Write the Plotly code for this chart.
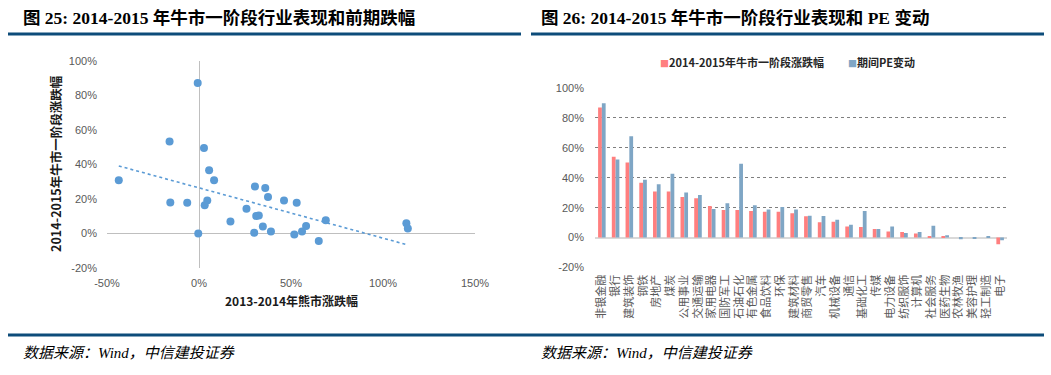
import numpy as np
import plotly.graph_objects as go

W, H = 1051, 375

# ---------- Left chart data (scatter) ----------
bear_2013_2014 = [-0.007, -0.16, 0.027, 0.055, 0.082, -0.436, 0.304, 0.36, 0.375, 0.045,
                  0.462, -0.156, -0.064, 0.531, 0.031, 0.258, 0.311, 0.325, 0.689, 0.171,
                  1.127, 0.582, 0.347, 1.135, 0.391, 0.56, 0.30, -0.004, 0.518, 0.651]
bull_2014_2015 = [0.873, 0.533, 0.496, 0.367, 0.309, 0.309, 0.272, 0.264, 0.212, 0.191,
                  0.191, 0.18, 0.178, 0.178, 0.164, 0.143, 0.102, 0.105, 0.077, 0.07,
                  0.06, 0.044, 0.041, 0.029, 0.012, 0.012, 0.004, 0.0, -0.006, -0.044]

left_x_ticks = [-0.5, 0, 0.5, 1.0, 1.5]
left_x_ticktext = ["-50%", "0%", "50%", "100%", "150%"]
left_y_ticks = [-0.2, 0, 0.2, 0.4, 0.6, 0.8, 1.0]
left_y_ticktext = ["-20%", "0%", "20%", "40%", "60%", "80%", "100%"]

# ---------- Right chart data (bars) ----------
industries = ["非银金融", "银行", "建筑装饰", "钢铁", "房地产", "煤炭", "公用事业", "交通运输",
              "家用电器", "国防军工", "石油石化", "有色金属", "食品饮料", "环保", "建筑材料",
              "商贸零售", "汽车", "机械设备", "通信", "基础化工", "传媒", "电力设备",
              "纺织服饰", "计算机", "社会服务", "医药生物", "农林牧渔", "美容护理",
              "轻工制造", "电子"]
bull_change = [0.869, 0.54, 0.502, 0.366, 0.308, 0.308, 0.272, 0.263, 0.211, 0.184,
               0.184, 0.178, 0.173, 0.173, 0.162, 0.142, 0.103, 0.106, 0.074, 0.07,
               0.058, 0.04, 0.038, 0.027, 0.011, 0.009, 0.0, 0.0, 0.0, -0.045]
pe_change = [0.898, 0.522, 0.678, 0.387, 0.357, 0.427, 0.301, 0.285, 0.191, 0.229,
             0.494, 0.216, 0.187, 0.204, 0.187, 0.146, 0.144, 0.119, 0.085, 0.178,
             0.058, 0.074, 0.031, 0.038, 0.079, 0.016, -0.011, -0.008, 0.004, -0.018]

right_y_ticks = [-0.2, 0, 0.2, 0.4, 0.6, 0.8, 1.0]
right_y_ticktext = ["-20%", "0%", "20%", "40%", "60%", "80%", "100%"]

PINK = "#FF7F7F"
STEEL = "#7FA6C5"
DOT_BLUE = "#5B9BD5"
NAVY = "#0D4C7A"
GRAY_TXT = "#595959"
CJK = "Noto Sans CJK SC"


def fx(px):
    return px / W


def fy(py):
    return 1 - py / H


fig = go.Figure()

# scatter
fig.add_trace(go.Scatter(
    x=bear_2013_2014, y=bull_2014_2015, mode="markers",
    marker=dict(color=DOT_BLUE, size=8, line=dict(width=0)),
    xaxis="x", yaxis="y", showlegend=False, hoverinfo="x+y"))

# linear trend line
k, b = np.polyfit(bear_2013_2014, bull_2014_2015, 1)
xs = np.array([min(bear_2013_2014), max(bear_2013_2014)])
fig.add_trace(go.Scatter(
    x=xs, y=k * xs + b, mode="lines",
    line=dict(color=DOT_BLUE, width=1.6, dash="dot"),
    xaxis="x", yaxis="y", showlegend=False, hoverinfo="skip"))

# bars
fig.add_trace(go.Bar(x=industries, y=bull_change, marker=dict(color=PINK, line=dict(width=0)),
                     name="2014-2015年牛市一阶段涨跌幅", xaxis="x2", yaxis="y2", showlegend=False))
fig.add_trace(go.Bar(x=industries, y=pe_change, marker=dict(color=STEEL, line=dict(width=0)),
                     name="期间PE变动", xaxis="x2", yaxis="y2", showlegend=False))

tickfont = dict(family="Liberation Sans, Arial, sans-serif", size=11, color=GRAY_TXT)

fig.update_layout(
    width=W, height=H, margin=dict(l=0, r=0, t=0, b=0, autoexpand=False),
    paper_bgcolor="white", plot_bgcolor="white",
    barmode="group", bargap=0.45, bargroupgap=0,
    font=dict(family=CJK),
    xaxis=dict(domain=[fx(107), fx(475)], range=[-0.5, 1.5], automargin=False,
               tickvals=left_x_ticks, ticktext=left_x_ticktext,
               showgrid=False, zeroline=True, zerolinecolor="#BFBFBF", zerolinewidth=1,
               showline=False, ticks="", tickfont=tickfont, ticklabelstandoff=7),
    yaxis=dict(domain=[fy(268), fy(61)], range=[-0.2, 1.0], automargin=False,
               tickvals=left_y_ticks, ticktext=left_y_ticktext,
               showgrid=False, zeroline=True, zerolinecolor="#BFBFBF", zerolinewidth=1,
               showline=False, ticks="", tickfont=tickfont, ticklabelstandoff=9),
    xaxis2=dict(domain=[fx(595), fx(1007)], anchor="y2", automargin=False,
                showgrid=False, zeroline=False, showline=False, ticks="",
                tickangle=-90, tickfont=dict(family=CJK, size=11, color=GRAY_TXT),
                ticklabelstandoff=4),
    yaxis2=dict(domain=[fy(267.5), fy(88)], anchor="x2", range=[-0.2, 1.0], automargin=False,
                tickvals=right_y_ticks, ticktext=right_y_ticktext,
                showgrid=True, gridcolor="#7F7F7F", gridwidth=1, griddash="dot",
                zeroline=True, zerolinecolor="#D9D9D9", zerolinewidth=2,
                showline=False, ticks="", tickfont=tickfont, ticklabelstandoff=10),
)

SERIF_CJK = "Liberation Serif, " + CJK
annotations = [
    # titles
    dict(text="<b>图 25: 2014-2015 年牛市一阶段行业表现和前期跌幅</b>", x=fx(21), y=fy(18),
         xanchor="left", yanchor="middle",
         font=dict(family=SERIF_CJK, size=17.5, color="#000000")),
    dict(text="<b>图 26: 2014-2015 年牛市一阶段行业表现和 PE 变动</b>", x=fx(539), y=fy(18),
         xanchor="left", yanchor="middle",
         font=dict(family=SERIF_CJK, size=17.5, color="#000000")),
    # axis titles of the scatter
    dict(text="<b>2013-2014年熊市涨跌幅</b>", x=fx(291), y=fy(300), xanchor="center",
         yanchor="middle", font=dict(family=CJK, size=12, color="#1a1a1a")),
    dict(text="<b>2014-2015年牛市一阶段涨跌幅</b>", x=fx(55), y=fy(164), xanchor="center",
         yanchor="middle", textangle=-90, font=dict(family=CJK, size=12.5, color="#1a1a1a")),
    # legend of bar chart
    dict(text="<span style='color:%s;font-size:9px'>■</span><b>2014-2015年牛市一阶段涨跌幅</b>" % PINK,
         x=fx(658), y=fy(62), xanchor="left", yanchor="middle",
         font=dict(family=CJK, size=11, color="#262626")),
    dict(text="<span style='color:%s;font-size:9px'>■</span><b>期间PE变动</b>" % STEEL,
         x=fx(846), y=fy(62), xanchor="left", yanchor="middle",
         font=dict(family=CJK, size=11, color="#262626")),
    # footers
    dict(text="<i>数据来源：Wind，中信建投证券</i>", x=fx(21), y=fy(353), xanchor="left",
         yanchor="middle", font=dict(family=SERIF_CJK, size=15, color="#000000")),
    dict(text="<i>数据来源：Wind，中信建投证券</i>", x=fx(539), y=fy(353), xanchor="left",
         yanchor="middle", font=dict(family=SERIF_CJK, size=15, color="#000000")),
]
for a in annotations:
    a.update(xref="paper", yref="paper", showarrow=False)
fig.update_layout(annotations=annotations)

shapes = [
    dict(type="line", x0=fx(8), x1=fx(521), y0=fy(34), y1=fy(34)),
    dict(type="line", x0=fx(531), x1=fx(1044), y0=fy(34), y1=fy(34)),
    dict(type="line", x0=fx(8), x1=fx(1044), y0=fy(335), y1=fy(335)),
]
for s in shapes:
    s.update(xref="paper", yref="paper", line=dict(color=NAVY, width=3))
fig.update_layout(shapes=shapes)

fig.write_html(
    "out.html",
    config={"displayModeBar": False},
    post_script="document.body.style.margin='0';document.body.style.overflow='hidden';",
)
